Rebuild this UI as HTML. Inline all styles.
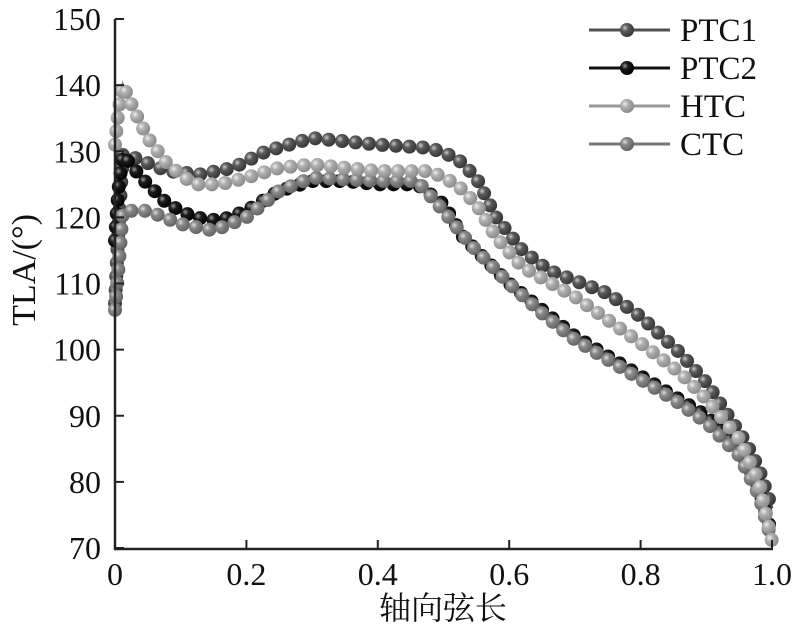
<!DOCTYPE html>
<html><head><meta charset="utf-8"><style>
html,body{margin:0;padding:0;background:#fff;}
svg{display:block;}
text{font-family:"Liberation Serif","Noto Serif CJK SC",serif;fill:#111;}
</style></head><body>
<svg id="s" width="796" height="630" xmlns="http://www.w3.org/2000/svg">
<defs>
<radialGradient id="g1" cx="0.35" cy="0.35" r="0.7"><stop offset="0" stop-color="#c8c8c8"/><stop offset="0.35" stop-color="#5a5a5a"/><stop offset="1" stop-color="#333"/></radialGradient>
<radialGradient id="g2" cx="0.35" cy="0.35" r="0.7"><stop offset="0" stop-color="#999"/><stop offset="0.35" stop-color="#1a1a1a"/><stop offset="1" stop-color="#000"/></radialGradient>
<radialGradient id="g3" cx="0.35" cy="0.35" r="0.7"><stop offset="0" stop-color="#eee"/><stop offset="0.35" stop-color="#b0b0b0"/><stop offset="1" stop-color="#888"/></radialGradient>
<radialGradient id="g4" cx="0.35" cy="0.35" r="0.7"><stop offset="0" stop-color="#ddd"/><stop offset="0.35" stop-color="#888"/><stop offset="1" stop-color="#606060"/></radialGradient>
</defs>
<g id="plot"></g>
<g stroke="#222" stroke-width="2.5" fill="none">
<path d="M115,19 V549 H773"/>
</g>
<g id="ticks" stroke="#222" stroke-width="2"></g>
<g font-size="32" text-anchor="end" id="yl"></g>
<g font-size="32" text-anchor="middle" id="xl"></g>
<text x="0" y="0" font-size="34" text-anchor="middle" transform="translate(35,270) rotate(-90)">TLA/(°)</text>
<text x="443" y="619" font-size="32" text-anchor="middle" font-family="Noto Serif CJK SC,serif">轴向弦长</text>
<g id="leg" font-size="33"></g>
</svg>
<script>
const NS="http://www.w3.org/2000/svg";
const X=v=>115+657*v, Y=v=>19+(150-v)*6.6125;
function el(p,t,a,txt){const e=document.createElementNS(NS,t);for(const k in a)e.setAttribute(k,a[k]);if(txt)e.textContent=txt;p.appendChild(e);return e;}
const tk=document.getElementById('ticks'),yl=document.getElementById('yl'),xl=document.getElementById('xl');
for(let v=70;v<=150;v+=10){const y=Y(v);el(tk,'line',{x1:115,x2:124,y1:y,y2:y});el(yl,'text',{x:101,y:y+11},String(v));}
for(let i=0;i<=5;i++){const x=X(i*0.2);el(tk,'line',{x1:x,x2:x,y1:549,y2:540});el(xl,'text',{x:x,y:585},i==0?'0':(i==5?'1.0':(i*0.2).toFixed(1)));}
const S=[
{c:'#505050',g:'g1',d:[[0,107],[0.005,118],[0.012,129.5],[0.03,129],[0.08,127],[0.13,126.5],[0.18,127.5],[0.23,130],[0.3,132],[0.35,131.5],[0.4,131],[0.48,130.5],[0.52,129],[0.55,126],[0.58,120],[0.62,115],[0.66,112],[0.75,108.5],[0.8,105],[0.86,99.5],[0.9,95],[0.93,90.5],[0.96,86],[0.98,82],[0.99,79],[1.0,76]]},
{c:'#111',g:'g2',d:[[0,116.5],[0.005,124],[0.012,129.5],[0.04,126],[0.08,122],[0.12,120],[0.16,119.5],[0.2,121],[0.25,124],[0.3,125.5],[0.35,125.5],[0.4,125],[0.46,125],[0.5,122],[0.53,117],[0.57,113],[0.6,110],[0.65,106],[0.7,102],[0.75,99],[0.8,96],[0.85,93],[0.9,90],[0.95,85],[0.98,79],[1.0,72]]},
{c:'#555',g:'g4',d:[[0,106],[0.005,112],[0.012,121],[0.05,121],[0.1,119],[0.15,118],[0.2,120],[0.25,124],[0.3,126],[0.4,125.5],[0.46,125.5],[0.5,121],[0.54,116],[0.57,113],[0.6,110],[0.65,105.5],[0.7,101.5],[0.75,98.5],[0.8,95.5],[0.85,92.5],[0.9,89],[0.95,84],[0.98,78],[1.0,71]]},
{c:'#999',g:'g3',d:[[0,131],[0.005,136],[0.012,140],[0.03,136],[0.05,132],[0.08,128],[0.12,125],[0.16,125],[0.2,126],[0.25,127.5],[0.3,128],[0.4,127],[0.48,127],[0.52,125],[0.55,122],[0.58,117],[0.62,112.5],[0.7,108],[0.8,101],[0.86,96.5],[0.9,92.5],[0.95,86.5],[0.98,80],[1.0,71]]}
];
const P=document.getElementById('plot');
S.forEach(s=>{
 const pts=s.d.map(p=>[X(p[0]),Y(p[1])]);
 el(P,'polyline',{points:pts.map(p=>p.join(',')).join(' '),fill:'none',stroke:s.c,'stroke-width':3});
 let acc=0,step=13.5;
 el(P,'circle',{cx:pts[0][0],cy:pts[0][1],r:7,fill:'url(#'+s.g+')'});
 for(let i=1;i<pts.length;i++){const dx=pts[i][0]-pts[i-1][0],dy=pts[i][1]-pts[i-1][1],L=Math.hypot(dx,dy);
  let t=step-acc;while(t<=L){el(P,'circle',{cx:pts[i-1][0]+dx*t/L,cy:pts[i-1][1]+dy*t/L,r:7,fill:'url(#'+s.g+')'});t+=step;}
  acc=L-(t-step);}
});
const lg=document.getElementById('leg');
[['PTC1','#505050','g1'],['PTC2','#111','g2'],['HTC','#999','g3'],['CTC','#777','g4']].forEach((l,i)=>{const y=30+i*38;
 el(lg,'line',{x1:589,x2:670,y1:y,y2:y,stroke:l[1],'stroke-width':3});
 el(lg,'circle',{cx:627,cy:y,r:7,fill:'url(#'+l[2]+')'});
 el(lg,'text',{x:680,y:y+11},l[0]);});
</script>
</body></html>
